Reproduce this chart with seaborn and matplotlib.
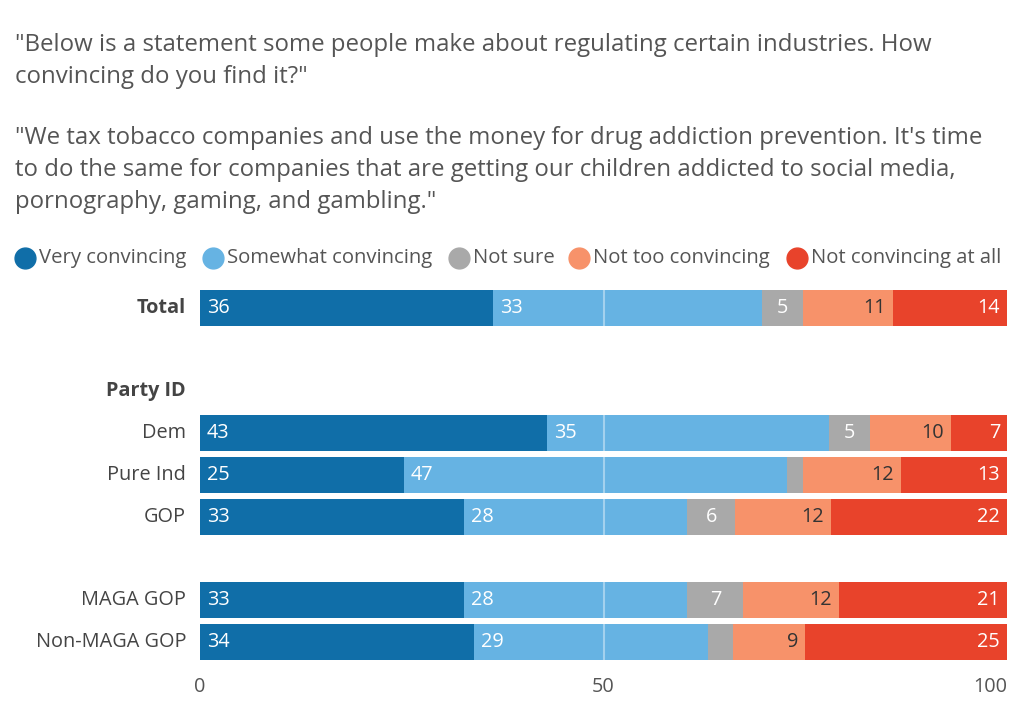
import matplotlib
matplotlib.use("Agg")
import matplotlib.pyplot as plt
import seaborn as sns
import pandas as pd
import numpy as np
from matplotlib.lines import Line2D

groups = ["Total", "Dem", "Pure Ind", "GOP", "MAGA GOP", "Non-MAGA GOP"]
very = [36, 43, 25, 33, 33, 34]
somewhat = [33, 35, 47, 28, 28, 29]
not_sure = [5, 5, 2, 6, 7, 3]
not_too = [11, 10, 12, 12, 12, 9]
not_at_all = [14, 7, 13, 22, 21, 25]
series_names = ["Very convincing", "Somewhat convincing", "Not sure",
                "Not too convincing", "Not convincing at all"]
x_ticks = [0, 50, 100]
header = "Party ID"
title_lines = [
    '"Below is a statement some people make about regulating certain industries. How',
    'convincing do you find it?"',
    '',
    '"We tax tobacco companies and use the money for drug addiction prevention. It\'s time',
    'to do the same for companies that are getting our children addicted to social media,',
    'pornography, gaming, and gambling."',
]

colors = ["#106ea8", "#66b3e3", "#a9a9a9", "#f7926a", "#e8432b"]
label_colors = ["white", "white", "white", "#333333", "white"]
row_pos = [0, 3, 4, 5, 7, 8]
header_pos = 2
FONT = "Open Sans"

sns.set_theme(style="white")
plt.rcParams["font.family"] = [FONT, "DejaVu Sans"]

W, H = 1024, 705
fig = plt.figure(figsize=(W / 100, H / 100), dpi=100)
ax = fig.add_axes([200 / W, (H - 665) / H, 807 / W, 380 / H])

series = [very, somewhat, not_sure, not_too, not_at_all]
vals = np.array(series, dtype=float)  # 5 x 6
shares = vals / vals.sum(axis=0) * 100  # rows shown as full 100% bars
cum = np.cumsum(shares, axis=0)

for i in reversed(range(5)):
    df = pd.DataFrame({"val": cum[i], "pos": row_pos})
    sns.barplot(data=df, x="val", y="pos", orient="h", native_scale=True,
                color=colors[i], saturation=1, width=0.86, errorbar=None,
                linewidth=0, ax=ax)

ax.set_xlim(0, 100)
ax.set_ylim(8.55, -0.55)
ax.axvline(50, color="white", alpha=0.4, lw=1.5, zorder=5)

# value labels
px = 100 / 807
fs_lab = 14.3
for j, p in enumerate(row_pos):
    start = 0
    for i in range(5):
        v = vals[i, j]
        end = start + shares[i, j]
        if v >= 4:
            if i < 2:
                ax.text(start + 7 * px, p, f"{int(v)}", ha="left", va="center",
                        color=label_colors[i], fontsize=fs_lab, zorder=6)
            elif i == 2:
                ax.text((start + end) / 2, p, f"{int(v)}", ha="center", va="center",
                        color=label_colors[i], fontsize=fs_lab, zorder=6)
            else:
                ax.text(end - 7 * px, p, f"{int(v)}", ha="right", va="center",
                        color=label_colors[i], fontsize=fs_lab, zorder=6)
        start = end

# y labels
ax.set_yticks([])
ax.set_ylabel("")
ax.set_xlabel("")
for j, (g, p) in enumerate(zip(groups, row_pos)):
    ax.text(-14 * px, p, g, ha="right", va="center", fontsize=fs_lab,
            color="#444444", fontweight="bold" if g == "Total" else "normal")
ax.text(-14 * px, header_pos, header, ha="right", va="center", fontsize=fs_lab,
        color="#444444", fontweight="bold")

ax.set_xticks(x_ticks)
ax.set_xticklabels([str(t) for t in x_ticks], fontsize=14.3, color="#555555")
ax.get_xticklabels()[-1].set_ha("right")
ax.tick_params(axis="x", length=0, pad=9)
for s in ax.spines.values():
    s.set_visible(False)

# title
for k, line in enumerate(title_lines):
    if line:
        y = [45, 77, 0, 138, 170, 202][k]
        fig.text(15 / W, 1 - y / H, line, ha="left", va="center", fontsize=17.3,
                 color="#555555")

# legend
leg_x = [25, 213, 459, 579, 797]
for i, name in enumerate(series_names):
    fig.add_artist(Line2D([leg_x[i] / W], [1 - 258 / H], marker="o", markersize=15,
                          color=colors[i], linestyle="none", transform=fig.transFigure))
    fig.text((leg_x[i] + 14) / W, 1 - 258 / H, name, ha="left", va="center",
             fontsize=14.6, color="#555555")

fig.savefig("out.png", dpi=100)
